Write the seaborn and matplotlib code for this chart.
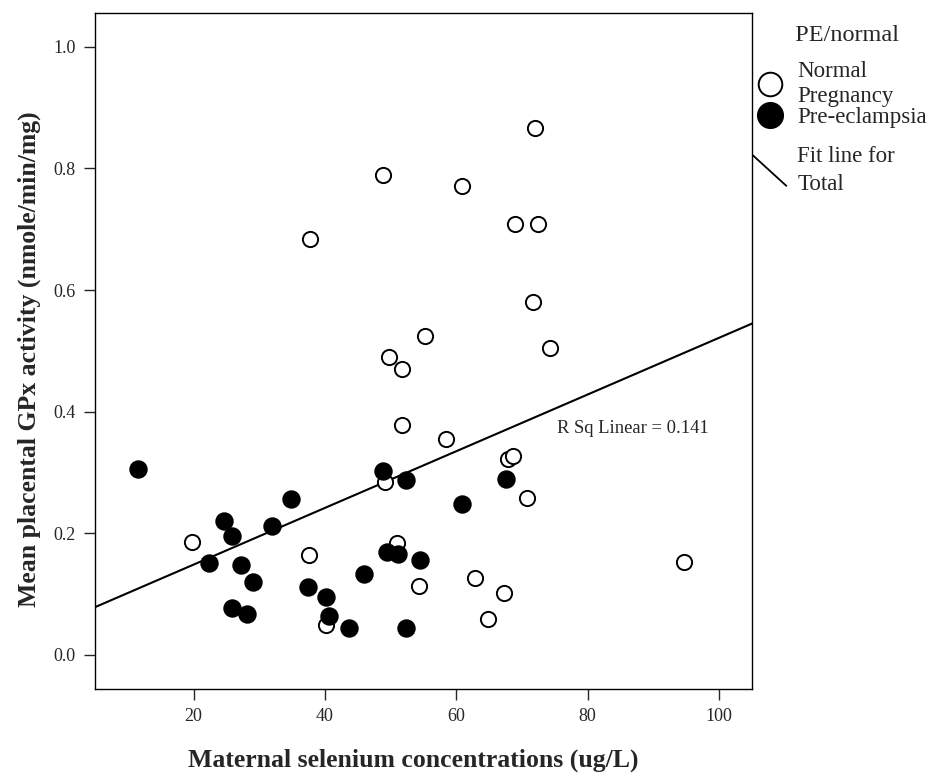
import numpy as np
import pandas as pd
import seaborn as sns
from matplotlib import pyplot as plt
from matplotlib.lines import Line2D
from matplotlib.legend_handler import HandlerBase

# values
normal_se  = [19.7, 37.8, 48.9, 60.9, 68.9, 72.4, 71.9, 71.6, 74.2, 55.2, 49.8, 51.8, 51.7,
              58.5, 67.8, 68.6, 49.1, 70.7, 50.9, 37.5, 54.3, 62.8, 67.3, 64.8, 40.1, 94.6]
normal_gpx = [0.186, 0.684, 0.789, 0.771, 0.709, 0.709, 0.867, 0.581, 0.505, 0.525, 0.490, 0.470, 0.378,
              0.355, 0.322, 0.327, 0.285, 0.258, 0.184, 0.164, 0.113, 0.127, 0.102, 0.059, 0.049, 0.153]
pe_se      = [11.5, 24.6, 25.9, 22.3, 31.9, 34.9, 27.2, 29.0, 25.9, 28.1, 37.4, 40.2,
              40.6, 43.7, 46.0, 48.8, 52.4, 60.9, 67.6, 49.4, 51.1, 54.4, 52.3]
pe_gpx     = [0.306, 0.220, 0.196, 0.151, 0.212, 0.257, 0.148, 0.120, 0.077, 0.067, 0.112, 0.095,
              0.064, 0.044, 0.133, 0.303, 0.288, 0.248, 0.289, 0.169, 0.166, 0.156, 0.044]

groups   = ['Normal Pregnancy', 'Pre-eclampsia']
x_ticks  = [20, 40, 60, 80, 100]
y_ticks  = [0.0, 0.2, 0.4, 0.6, 0.8, 1.0]
r2_text  = 'R Sq Linear = 0.141'

df = pd.concat([
    pd.DataFrame({'se': normal_se, 'gpx': normal_gpx, 'group': groups[0]}),
    pd.DataFrame({'se': pe_se, 'gpx': pe_gpx, 'group': groups[1]}),
], ignore_index=True)

sns.set_style('ticks')
plt.rcParams['font.family'] = ['Liberation Serif', 'DejaVu Serif']
plt.rcParams.update({'axes.linewidth': 1.0, 'xtick.major.size': 8, 'ytick.major.size': 8,
                     'xtick.major.width': 1.0, 'ytick.major.width': 1.0})


class DiagLine(HandlerBase):
    # fit line in the legend is drawn as a slanted segment
    def create_artists(self, legend, orig_handle, xdescent, ydescent, width, height, fontsize, trans):
        mid = height / 2 - ydescent
        ln  = Line2D([-xdescent - 1, width - xdescent], [mid + 11, mid - 11],
                     color='black', lw=1.3)
        ln.set_transform(trans)
        return [ln]


fig = plt.figure(figsize=(9.34, 7.78), dpi=100)
ax  = fig.add_axes([0.1017, 0.1144, 0.7034, 0.8685])
ax.set_xlim(5, 105)
ax.set_ylim(-0.056, 1.055)

sns.scatterplot(x='se', y='gpx', data=df[df.group == groups[0]], ax=ax, s=120,
                color='white', edgecolor='black', linewidth=1.4, zorder=3)
sns.scatterplot(x='se', y='gpx', data=df[df.group == groups[1]], ax=ax, s=150,
                color='black', edgecolor='black', linewidth=1.0, zorder=4)
sns.regplot(x='se', y='gpx', data=df, ax=ax, scatter=False, ci=None, truncate=False,
            line_kws=dict(color='black', lw=1.5, zorder=2))

ax.set_xlim(5, 105)
ax.set_ylim(-0.056, 1.055)
ax.set_xticks(x_ticks)
ax.set_yticks(y_ticks)
ax.set_yticklabels(['%.1f' % v for v in y_ticks])
ax.tick_params(labelsize=13, direction='out', pad=6)
for sp in ax.spines.values():
    sp.set_visible(True)
    sp.set_color('black')

ax.set_xlabel('Maternal selenium concentrations (ug/L)', fontsize=18.5, fontweight='bold', labelpad=17)
ax.set_ylabel('Mean placental GPx activity (nmole/min/mg)', fontsize=18.5, fontweight='bold', labelpad=9)
ax.xaxis.label.set_x(0.484)
ax.yaxis.label.set_y(0.488)

ax.text(0.703, 0.385, r2_text, transform=ax.transAxes, fontsize=13.4, ha='left', va='center')

handles = [
    Line2D([], [], ls='none', marker='o', markersize=17, markerfacecolor='white',
           markeredgecolor='black', markeredgewidth=1.4),
    Line2D([], [], ls='none', marker='o', markersize=18.5, markerfacecolor='black',
           markeredgecolor='black'),
    Line2D([], [], color='black', lw=1.3),
]
labels = ['Normal\nPregnancy', 'Pre-eclampsia', 'Fit line for\nTotal']
common = dict(loc='upper left', frameon=False, fontsize=16.5, handlelength=1.4,
              handletextpad=0.48, borderaxespad=0.0, borderpad=0.1)

# group legend and fit-line legend are placed separately to get the spacing
leg1 = ax.legend(handles[:2], labels[:2], title='  PE/normal', title_fontsize=17.5,
                 bbox_to_anchor=(1.0, 0.986), labelspacing=0.0, **common)
leg1._legend_box.sep = 11
for t in leg1.get_texts():
    t.set_linespacing(1.25)
ax.add_artist(leg1)

leg2 = ax.legend(handles[2:], labels[2:], bbox_to_anchor=(1.0, 0.807),
                 handler_map={handles[2]: DiagLine()}, **common)
for t in leg2.get_texts():
    t.set_linespacing(1.45)

plt.savefig('out.png', dpi=100)
